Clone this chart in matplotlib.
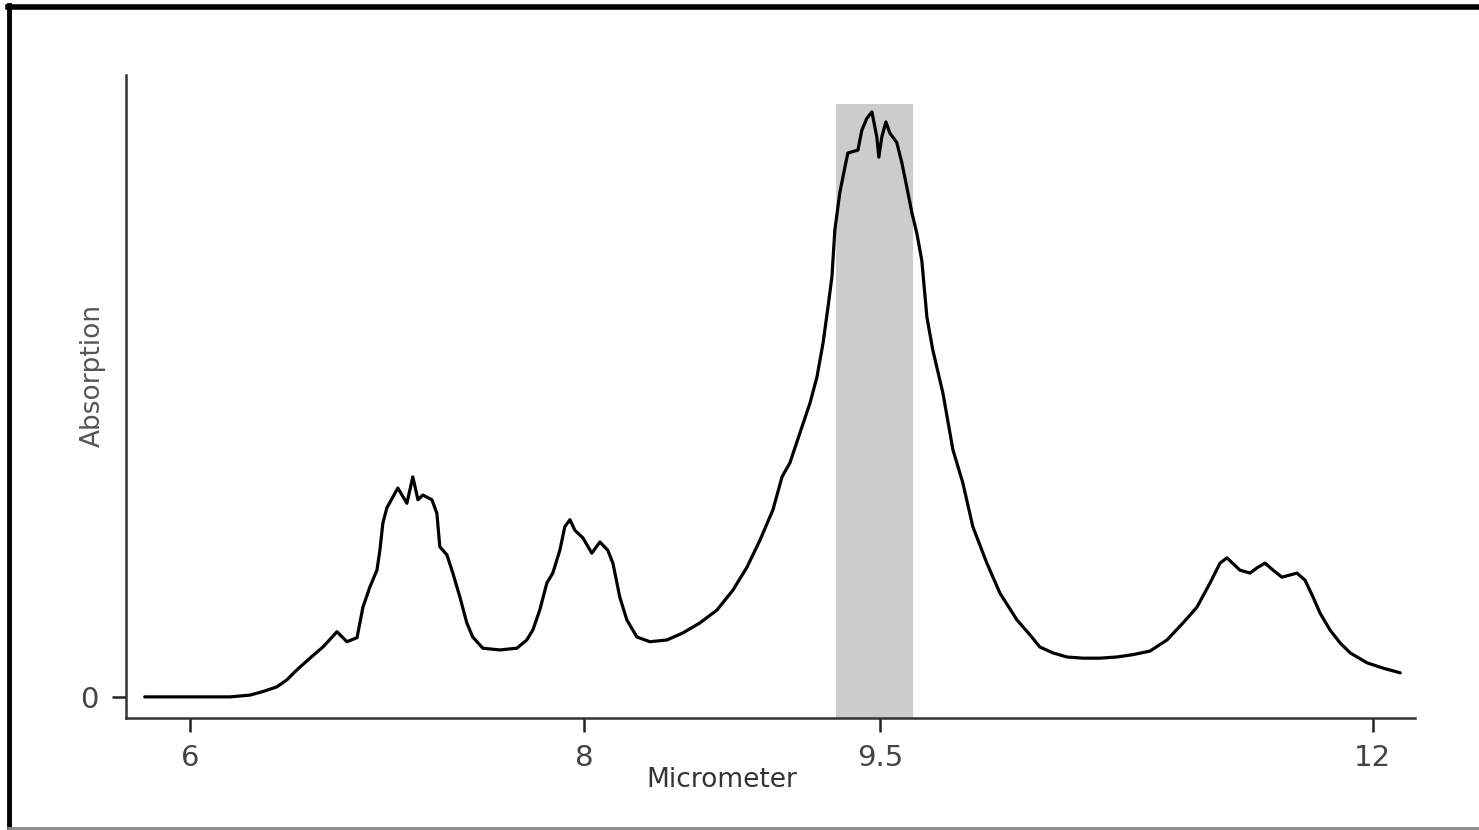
import numpy as np
import matplotlib.pyplot as plt
from matplotlib.lines import Line2D

# Spectrum (micrometer, relative absorption)
wavelength = [
    5.771, 6.203, 6.304, 6.370, 6.441, 6.492, 6.543, 6.609, 6.675, 6.746,
    6.797, 6.848, 6.878, 6.914, 6.949, 6.964, 6.979, 6.999, 7.030, 7.055,
    7.101, 7.131, 7.157, 7.182, 7.228, 7.253, 7.268, 7.304, 7.334, 7.370,
    7.405, 7.435, 7.486, 7.572, 7.659, 7.709, 7.740, 7.775, 7.811, 7.841,
    7.877, 7.902, 7.928, 7.953, 7.994, 8.039, 8.080, 8.120, 8.146, 8.181,
    8.217, 8.268, 8.334, 8.420, 8.501, 8.587, 8.674, 8.755, 8.826, 8.892,
    8.958, 9.004, 9.044, 9.095, 9.146, 9.181, 9.212, 9.237, 9.257, 9.272,
    9.297, 9.323, 9.338, 9.389, 9.409, 9.434, 9.460, 9.485, 9.495, 9.510,
    9.531, 9.551, 9.586, 9.612, 9.637, 9.663, 9.688, 9.713, 9.739, 9.769,
    9.820, 9.871, 9.921, 9.972, 10.043, 10.109, 10.196, 10.261, 10.312, 10.378,
    10.449, 10.530, 10.617, 10.703, 10.784, 10.870, 10.957, 11.038, 11.109, 11.175,
    11.226, 11.261, 11.327, 11.378, 11.414, 11.454, 11.495, 11.540, 11.616, 11.657,
    11.698, 11.733, 11.784, 11.835, 11.886, 11.972, 12.053, 12.140,
]
absorption = [
    0.000, 0.000, 0.003, 0.009, 0.017, 0.029, 0.046, 0.066, 0.085, 0.111,
    0.094, 0.101, 0.153, 0.188, 0.216, 0.250, 0.296, 0.322, 0.341, 0.356,
    0.330, 0.375, 0.336, 0.344, 0.336, 0.313, 0.256, 0.242, 0.211, 0.170,
    0.126, 0.102, 0.083, 0.080, 0.083, 0.097, 0.114, 0.148, 0.194, 0.211,
    0.250, 0.290, 0.302, 0.284, 0.271, 0.245, 0.264, 0.250, 0.228, 0.170,
    0.131, 0.102, 0.094, 0.097, 0.109, 0.126, 0.148, 0.182, 0.221, 0.267,
    0.319, 0.375, 0.399, 0.450, 0.501, 0.545, 0.603, 0.664, 0.716, 0.796,
    0.859, 0.903, 0.927, 0.932, 0.966, 0.986, 0.997, 0.954, 0.920, 0.954,
    0.980, 0.961, 0.945, 0.910, 0.869, 0.825, 0.790, 0.744, 0.647, 0.591,
    0.518, 0.421, 0.365, 0.290, 0.228, 0.177, 0.131, 0.106, 0.085, 0.075,
    0.068, 0.066, 0.066, 0.068, 0.072, 0.078, 0.097, 0.126, 0.153, 0.194,
    0.228, 0.237, 0.216, 0.211, 0.220, 0.228, 0.216, 0.204, 0.211, 0.199,
    0.170, 0.143, 0.114, 0.092, 0.075, 0.058, 0.049, 0.041,
]

x_ticks = [6, 8, 9.5, 12]
x_ticklabels = ['6', '8', '9.5', '12']
y_ticks = [0]
y_ticklabels = ['0']

band = (9.28, 9.67)   # highlighted window
band_top = 1.01

XLIM = (5.676, 12.215)
YLIM = (-0.036, 1.060)

fig = plt.figure(figsize=(14.79, 8.30), dpi=100)
ax = fig.add_axes([126 / 1479, 112 / 830, 1289 / 1479, 643 / 830])

ax.fill_between(band, YLIM[0], band_top, color='#cccccc', lw=0, zorder=1)
ax.plot(wavelength, absorption, color='black', lw=2.3, zorder=3,
        solid_joinstyle='round', solid_capstyle='round')

ax.set_xlim(*XLIM)
ax.set_ylim(*YLIM)

for side in ('top', 'right'):
    ax.spines[side].set_visible(False)
for side in ('left', 'bottom'):
    ax.spines[side].set_color('#333333')
    ax.spines[side].set_linewidth(1.8)
    ax.spines[side].set_zorder(4)

ax.set_xticks(x_ticks)
ax.set_xticklabels(x_ticklabels)
ax.set_yticks(y_ticks)
ax.set_yticklabels(y_ticklabels)
ax.tick_params(axis='both', direction='out', length=10, width=1.8,
               color='#222222', labelsize=21, labelcolor='#444444')
ax.tick_params(axis='x', pad=9)
ax.tick_params(axis='y', pad=10)

ax.set_xlabel('Micrometer', fontsize=19, color='#333333', va='center')
ax.xaxis.set_label_coords((722 - 126) / 1289, (718 - 780) / 643)
ax.set_ylabel('Absorption', fontsize=19, color='#555555', va='center')
ax.yaxis.set_label_coords((93 - 126) / 1289, (718 - 375) / 643)

# picture frame around the figure
fig.add_artist(Line2D([8 / 1479, 1.0], [1 - 7 / 830, 1 - 7 / 830],
                      transform=fig.transFigure, color='black', lw=4))
fig.add_artist(Line2D([8.5 / 1479, 8.5 / 1479], [1 - 5 / 830, 2 / 830],
                      transform=fig.transFigure, color='black', lw=3.5))
fig.add_artist(Line2D([8 / 1479, 1.0], [2 / 830, 2 / 830],
                      transform=fig.transFigure, color='#888888', lw=2))

fig.savefig('out.png', dpi=100)
